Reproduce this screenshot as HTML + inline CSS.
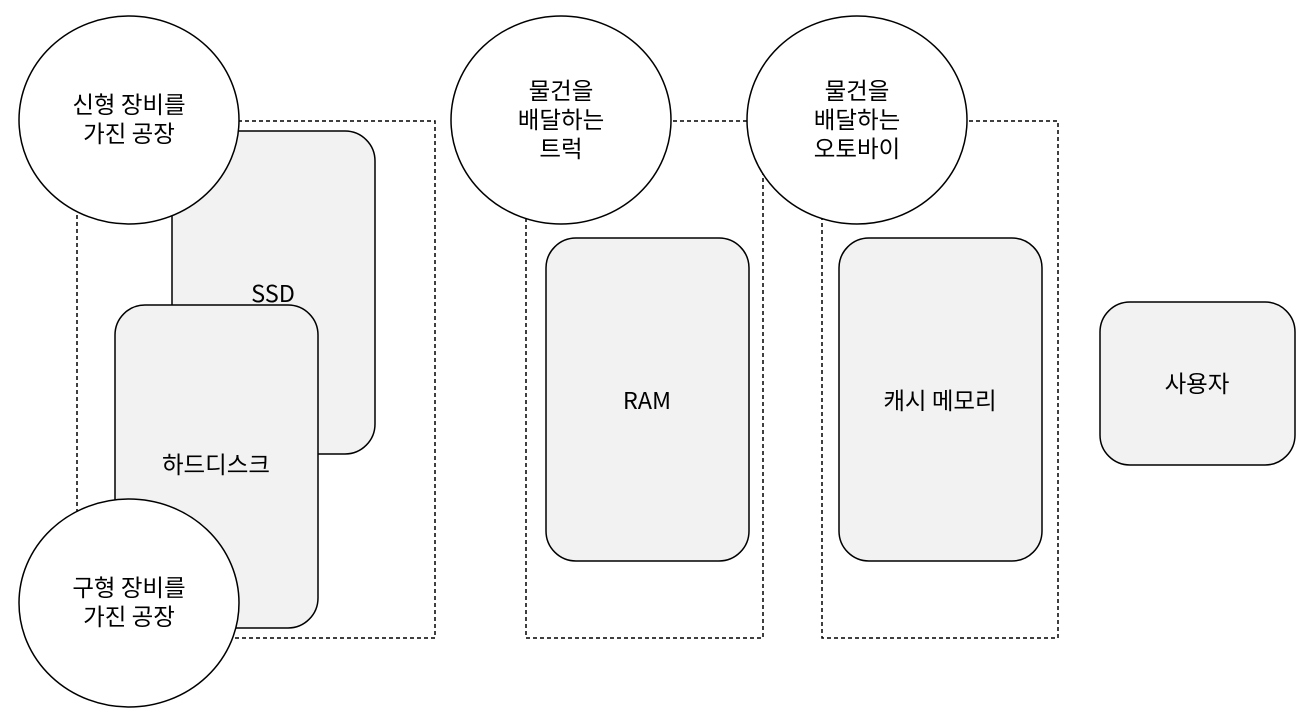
<!DOCTYPE html>
<html><head><meta charset="utf-8"><style>
html,body{margin:0;padding:0;background:#fff;}
text{font-family:"Noto Sans CJK KR","Liberation Sans",sans-serif;font-size:23.5px;fill:#000;}
</style></head><body>
<svg width="1310" height="720" viewBox="0 0 1310 720" xmlns="http://www.w3.org/2000/svg">
<g fill="none" stroke="#000" stroke-width="1.5" stroke-dasharray="4,3">
<rect x="77" y="121" width="358" height="517"/>
<rect x="526" y="121" width="237" height="517"/>
<rect x="822" y="121" width="236" height="517"/>
</g>
<g fill="#f2f2f2" stroke="#000" stroke-width="1.5">
<rect x="172" y="131" width="203" height="323" rx="30"/>
</g>
<text x="273" y="302" text-anchor="middle">SSD</text>
<g fill="#f2f2f2" stroke="#000" stroke-width="1.5">
<rect x="115" y="305" width="203" height="323" rx="30"/>
</g>
<text x="216" y="473" text-anchor="middle">하드디스크</text>
<g fill="#f2f2f2" stroke="#000" stroke-width="1.5">
<rect x="546" y="238" width="203" height="323" rx="30"/>
<rect x="839" y="238" width="203" height="323" rx="30"/>
<rect x="1100" y="302" width="195" height="163" rx="30"/>
</g>
<text x="647" y="409" text-anchor="middle">RAM</text>
<text x="940" y="409" text-anchor="middle">캐시 메모리</text>
<text x="1197" y="392" text-anchor="middle">사용자</text>
<g fill="#fff" stroke="#000" stroke-width="1.5">
<ellipse cx="129" cy="120" rx="110" ry="104"/>
<ellipse cx="129" cy="603" rx="110" ry="104"/>
<ellipse cx="561" cy="120" rx="110" ry="104"/>
<ellipse cx="857" cy="120" rx="110" ry="104"/>
</g>
<text x="129" y="113" text-anchor="middle">신형 장비를</text>
<text x="129" y="142" text-anchor="middle">가진 공장</text>
<text x="129" y="596" text-anchor="middle">구형 장비를</text>
<text x="129" y="625" text-anchor="middle">가진 공장</text>
<text x="561" y="99" text-anchor="middle">물건을</text>
<text x="561" y="128" text-anchor="middle">배달하는</text>
<text x="561" y="157" text-anchor="middle">트럭</text>
<text x="857" y="99" text-anchor="middle">물건을</text>
<text x="857" y="128" text-anchor="middle">배달하는</text>
<text x="857" y="157" text-anchor="middle">오토바이</text>
</svg>
</body></html>
